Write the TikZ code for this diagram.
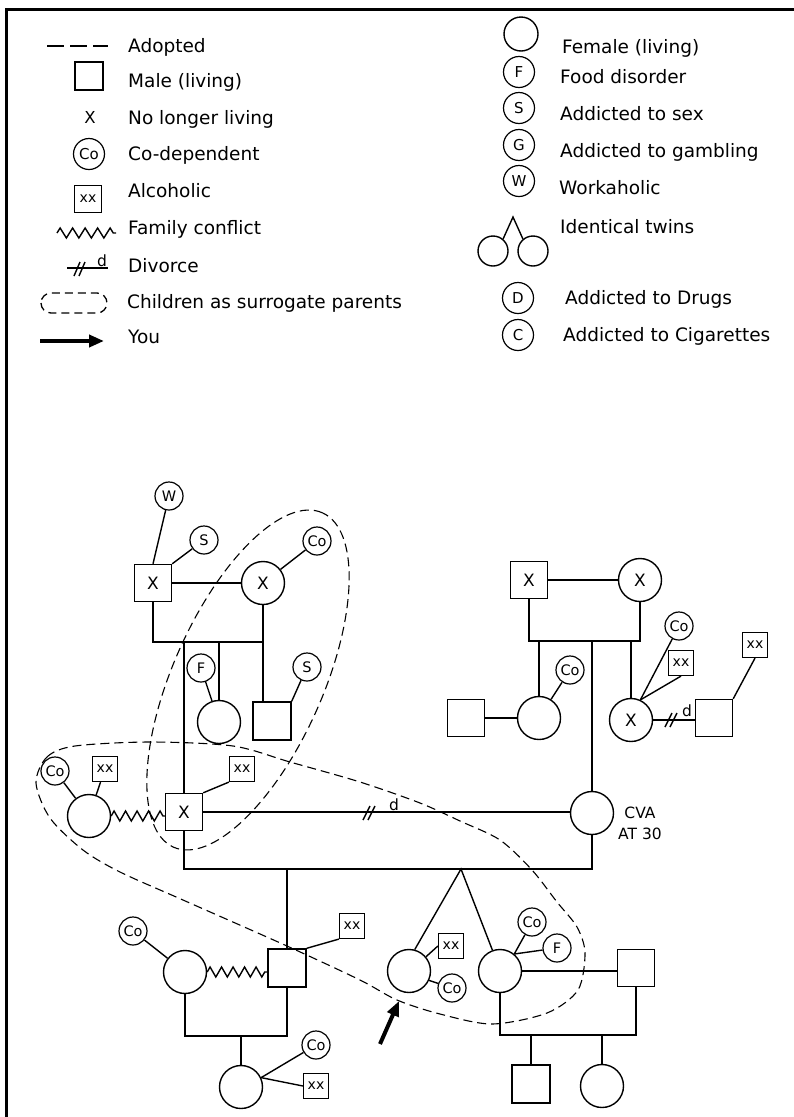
\documentclass[tikz,border=0pt]{standalone}
\usepackage{fontspec}
\setmainfont{DejaVu Sans}
\usetikzlibrary{arrows.meta,decorations.pathmorphing,shapes.geometric}
\tikzset{
 bigsq/.style={draw, rectangle, minimum size=37pt, inner sep=0pt, line width=1.4pt, font=\fontsize{17}{17}\selectfont},
 bigc/.style={draw, circle, minimum size=43pt, inner sep=0pt, line width=1.4pt, font=\fontsize{17}{17}\selectfont},
 smc/.style={draw, circle, minimum size=28pt, inner sep=0pt, line width=1.2pt, font=\fontsize{14.5}{14.5}\selectfont},
 smsq/.style={draw, rectangle, minimum size=25pt, inner sep=0pt, line width=1.2pt, font=\fontsize{14}{14}\selectfont},
 legc/.style={draw, circle, minimum size=31pt, inner sep=0pt, line width=1.2pt, font=\fontsize{15}{15}\selectfont},
 legtxt/.style={anchor=base west, inner sep=0pt, font=\fontsize{18.5}{22}\selectfont},
 conn/.style={line width=1.4pt},
 conflict/.style={line width=1.4pt, decorate, decoration={zigzag, segment length=11.5pt, amplitude=5pt}},
 surr/.style={dash pattern=on 9pt off 5pt, line width=1.1pt},
 youarrow/.style={line width=4pt, -{Triangle[length=15pt,width=12pt]}},
 divlbl/.style={inner sep=0pt, font=\fontsize{15.5}{15.5}\selectfont},
}
\begin{document}
\begin{tikzpicture}[x=1pt,y=-1pt]
\useasboundingbox (0,0) rectangle (794,1117);
% frame
\draw[line width=3pt] (6,1117) -- (6,9.5) -- (794,9.5);

% ---------------- legend left
\draw[line width=1.4pt, dash pattern=on 17pt off 6pt] (47,46) -- (108,46);
\node[legtxt] (t1) at (128,52) {Adopted};
\node[draw, rectangle, minimum size=28pt, inner sep=0pt, line width=1.4pt] (lsq) at (89,76) {};
\node[legtxt] (t2) at (128,87) {Male (living)};
\node[inner sep=0pt, font=\fontsize{16.5}{16.5}\selectfont] (lx) at (90,117) {X};
\node[legtxt] (t3) at (128,124) {No longer living};
\node[legc] (lco) at (89,154) {Co};
\node[legtxt] (t4) at (128,160) {Co-dependent};
\node[draw, rectangle, minimum size=27pt, inner sep=0pt, line width=1.4pt, font=\fontsize{14}{14}\selectfont] (lxx) at (88,199) {xx};
\node[legtxt] (t5) at (128,197) {Alcoholic};
\draw[line width=1.4pt, decorate, decoration={zigzag, segment length=12.5pt, amplitude=5pt}] (57,233) -- (116,233);
\node[legtxt] (t6) at (128,234) {Family conflict};
\draw[line width=1.4pt] (67,268) -- (108,268);
\draw[line width=1.4pt] (74,276) -- (80,262);
\draw[line width=1.4pt] (79,276) -- (85,262);
\node[divlbl, anchor=base] (ld) at (102,266) {d};
\node[legtxt] (t7) at (128,272) {Divorce};
\draw[line width=1.3pt, dash pattern=on 8pt off 5pt, rounded corners=10pt] (41,293) rectangle (107,313);
\node[legtxt] (t8) at (127,308) {Children as surrogate parents};
\draw[youarrow] (40,341) -- (104,341);
\node[legtxt] (t9) at (128,343) {You};

% ---------------- legend right
\node[draw, circle, minimum size=34pt, inner sep=0pt, line width=1.4pt] (lfem) at (521,34) {};
\node[legtxt] (r1) at (562,53) {Female (living)};
\node[legc] (lf) at (519,72) {F};
\node[legtxt] (r2) at (560,83) {Food disorder};
\node[legc] (ls) at (519,108) {S};
\node[legtxt] (r3) at (560,120) {Addicted to sex};
\node[legc] (lg) at (519,145) {G};
\node[legtxt] (r4) at (560,157) {Addicted to gambling};
\node[legc] (lw) at (519,181) {W};
\node[legtxt] (r5) at (559,194) {Workaholic};
\node[draw, circle, minimum size=30pt, inner sep=0pt, line width=1.4pt] (ltw1) at (493,251) {};
\node[draw, circle, minimum size=30pt, inner sep=0pt, line width=1.4pt] (ltw2) at (533,251) {};
\coordinate (lap) at (513,217);
\draw[conn] (ltw1.50) -- (lap) -- (ltw2.130);
\node[legtxt] (r6) at (560,233) {Identical twins};
\node[legc] (ldr) at (518,298) {D};
\node[legtxt] (r7) at (565,304) {Addicted to Drugs};
\node[legc] (lci) at (518,335) {C};
\node[legtxt] (r8) at (563,341) {Addicted to Cigarettes};

% ---------------- genogram: paternal grandparents
\node[bigsq] (gf1) at (153,583) {X};
\node[bigc] (gm1) at (263,583) {X};
\node[smc] (w1) at (169,496) {W};
\node[smc] (s1) at (204,540) {S};
\node[smc] (co1) at (317,541) {Co};
\draw[conn] (gf1.north) -- (w1);
\draw[conn] (gf1.north east) -- (s1);
\draw[conn] (gm1) -- (co1);
\draw[conn] (gf1) -- (gm1);
\coordinate (bar1) at (0,642);
\draw[conn] (gf1.south) -- (gf1.south |- bar1) -| (gm1.south);

% father, aunt, uncle
\node[bigsq] (fa) at (184,812) {X};
\node[bigc] (au1) at (219,722) {};
\node[bigsq, minimum size=38pt] (un1) at (272,721) {};
\node[smc] (f1) at (201,668) {F};
\node[smc] (s2) at (307,667) {S};
\draw[conn] (fa.north |- bar1) -- (fa.north);
\draw[conn] (au1.north |- bar1) -- (au1.north);
\draw[conn] (gm1.south) -- (gm1.south |- un1.north);
\draw[conn] (au1) -- (f1);
\draw[conn] (un1.north east) -- (s2);

% father's first wife
\node[bigc] (mw) at (89,816) {};
\node[smc] (co2) at (55,771) {Co};
\node[smsq] (xx1) at (105,769) {xx};
\node[smsq] (xx2) at (242,769) {xx};
\draw[conn] (mw) -- (co2);
\draw[conn] (mw) -- (xx1);
\draw[conflict] (mw.east) -- (fa.west |- mw.east);
\draw[conn] (fa.north east) -- (xx2.south west);

% maternal grandparents
\node[bigsq] (gf2) at (529,580) {X};
\node[bigc] (gm2) at (640,580) {X};
\draw[conn] (gf2) -- (gm2);
\coordinate (bar2) at (0,641);
\draw[conn] (gf2.south) -- (gf2.south |- bar2) -| (gm2.south);

\node[bigc] (au2) at (539,718) {};
\node[bigsq] (h2) at (466,718) {};
\node[smc] (co3) at (570,670) {Co};
\draw[conn] (au2.north |- bar2) -- (au2.north);
\draw[conn] (h2) -- (au2);
\draw[conn] (au2) -- (co3);

\node[bigc] (a3) at (631,720) {X};
\node[smc] (co4) at (679,626) {Co};
\node[smsq] (xx3) at (681,663) {xx};
\node[bigsq] (h3) at (714,718) {};
\node[smsq] (xx4) at (755,645) {xx};
\draw[conn] (a3.north |- bar2) -- (a3.north);
\draw[conn] (a3.65) -- (co4);
\draw[conn] (a3.65) -- (xx3.south);
\draw[conn] (a3.east) -- (a3.east -| h3.west);
\coordinate (dv2) at (671,720);
\draw[conn] (dv2) ++(-6,7) -- ++(7,-14);
\draw[conn] (dv2) ++(-1,7) -- ++(7,-14);
\node[divlbl, anchor=base] (d2) at (687,716) {d};
\draw[conn] (h3.north east) -- (xx4.south);

% mother
\node[bigc] (cva) at (592,813) {};
\node[inner sep=0pt, align=center, font=\fontsize{15.5}{21}\selectfont] (cvat) at (640,823) {CVA\\AT 30};
\draw[conn] (cva.north |- bar2) -- (cva.north);

% divorce of parents
\draw[conn] (fa.east) -- (fa.east -| cva.west);
\coordinate (dv1) at (369,813);
\draw[conn] (dv1) ++(-6,7) -- ++(7,-14);
\draw[conn] (dv1) ++(-1,7) -- ++(7,-14);
\node[divlbl, anchor=base] (d1) at (394,810) {d};

\coordinate (bar3) at (0,869);
\draw[conn] (fa.south) -- (fa.south |- bar3) -| (cva.south);

% brother
\node[bigsq, minimum size=38pt] (br) at (287,968) {};
\node[bigc] (bw) at (185,972) {};
\node[smc] (co7) at (133,931) {Co};
\node[smsq] (xx6) at (352,926) {xx};
\draw[conn] (br.north |- bar3) -- (br.north);
\draw[conflict] (bw.east) -- (bw.east -| br.west);
\draw[conn] (bw) -- (co7);
\draw[conn] (br.north east) -- (xx6.south west);
\coordinate (bar5) at (0,1036);
\draw[conn] (bw.south) -- (bw.south |- bar5) -| (br.south);
\node[bigc] (ch) at (241,1087) {};
\node[smc] (co8) at (316,1045) {Co};
\node[smsq] (xx7) at (316,1086) {xx};
\draw[conn] (ch.north |- bar5) -- (ch.north);
\draw[conn] (ch.25) -- (co8);
\draw[conn] (ch.25) -- (xx7.west);

% twins
\coordinate (tap) at (461,869);
\node[bigc] (you) at (409,971) {};
\node[bigc] (tw2) at (500,971) {};
\draw[conn] (you.75) -- (tap) -- (tw2.110);
\node[smsq] (xx5) at (451,946) {xx};
\node[smc] (co5) at (452,988) {Co};
\draw[conn] (you.40) -- (xx5.west);
\draw[conn] (you.-25) -- (co5);
\node[smc] (co6) at (532,922) {Co};
\node[smc] (f2) at (557,948) {F};
\draw[conn] (tw2.50) -- (co6);
\draw[conn] (tw2.50) -- (f2);
\node[bigsq] (h4) at (636,968) {};
\draw[conn] (tw2.east) -- (tw2.east -| h4.west);
\coordinate (bar4) at (0,1035);
\draw[conn] (tw2.south) -- (tw2.south |- bar4) -| (h4.south);
\node[bigsq, minimum size=38pt] (son) at (531,1084) {};
\node[bigc] (dau) at (602,1086) {};
\draw[conn] (son.north |- bar4) -- (son.north);
\draw[conn] (dau.north |- bar4) -- (dau.north);

% arrow "you"
\coordinate (ytail) at (380,1044);
\coordinate (ytip) at (399,1001);
\draw[youarrow] (ytail) -- (ytip);

% surrogate parent enclosures
\draw[surr, rotate around={66:(248,680)}] (248,680) ellipse [x radius=183pt, y radius=75pt];
\draw[surr] plot[smooth cycle] coordinates {(36,783) (47,757) (75,746) (150,742) (233,746) (290,762) (360,782) (420,803) (460,821) (500,840) (532,870) (557,902) (577,927) (585,953) (578,990) (547,1013) (492,1024) (440,1014) (397,1000) (360,980) (287,946) (183,900) (120,872) (83,850) (50,818)};
\end{tikzpicture}
\end{document}
